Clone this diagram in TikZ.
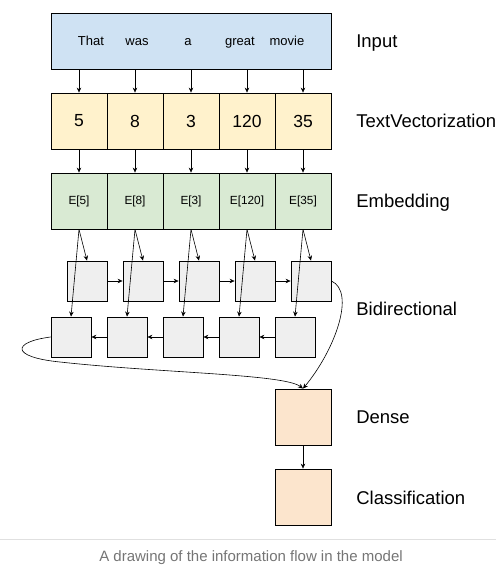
\documentclass[tikz,border=0pt]{standalone}
\usepackage{fontspec}
\setmainfont{Liberation Sans}
\usepackage{xcolor}
\usetikzlibrary{arrows.meta}

\definecolor{inBlue}{HTML}{CFE2F3}
\definecolor{tvYellow}{HTML}{FFF2CC}
\definecolor{emGreen}{HTML}{D9EAD3}
\definecolor{biGray}{HTML}{EFEFEF}
\definecolor{deOrange}{HTML}{FCE5CD}
\definecolor{capGray}{HTML}{757575}

\tikzset{
    cell/.style={draw, line width=0.8pt, minimum width=56pt, minimum height=56pt, inner sep=0pt},
    rnn/.style={draw, line width=0.8pt, fill=biGray, minimum width=40pt, minimum height=40pt, inner sep=0pt},
    layer/.style={anchor=base west, inner sep=0pt, font=\fontsize{18.5}{22}\selectfont}
}

\begin{document}
\begin{tikzpicture}[x=1pt, y=-1pt, >={Stealth[length=5pt,width=4.5pt]}, line width=0.6pt]
    \useasboundingbox (0,0) rectangle (496,585);

    % input sentence
    \node[cell, fill=inBlue, minimum width=280pt] (in) at (191,41) {};
    \begin{scope}[every node/.style={anchor=base, inner sep=0pt, font=\fontsize{13}{15}\selectfont}]
        \node (w1) at (91,46) {That};
        \node (w2) at (137,46) {was};
        \node (w3) at (188,46) {a};
        \node (w4) at (240,46) {great};
        \node (w5) at (287,46) {movie};
    \end{scope}

    % token ids
    \begin{scope}[every node/.style={cell, fill=tvYellow, font=\fontsize{17.5}{20}\selectfont}]
        \node (t1) at (79,121) {5};
        \node (t2) at (135,121) {8};
        \node (t3) at (191,121) {3};
        \node (t4) at (247,121) {120};
        \node (t5) at (303,121) {35};
    \end{scope}

    % embeddings
    \begin{scope}[every node/.style={cell, fill=emGreen, font=\fontsize{11.8}{14}\selectfont}]
        \node (e1) at (79,201) {E[5]};
        \node (e2) at (135,201) {E[8]};
        \node (e3) at (191,201) {E[3]};
        \node (e4) at (247,201) {E[120]};
        \node (e5) at (303,201) {E[35]};
    \end{scope}

    % forward and backward cells
    \node[rnn] (f1) at (87,281) {};
    \node[rnn] (f2) at (143,281) {};
    \node[rnn] (f3) at (199,281) {};
    \node[rnn] (f4) at (255,281) {};
    \node[rnn] (f5) at (311,281) {};
    \node[rnn] (b1) at (71,337) {};
    \node[rnn] (b2) at (127,337) {};
    \node[rnn] (b3) at (183,337) {};
    \node[rnn] (b4) at (239,337) {};
    \node[rnn] (b5) at (295,337) {};

    % dense and classification
    \node[cell, fill=deOrange] (d) at (303,417) {};
    \node[cell, fill=deOrange] (c) at (303,497) {};

    % layer names
    \node[layer] (lIn) at (356,48) {Input};
    \node[layer] (lTv) at (356,127.6) {TextVectorization};
    \node[layer] (lEm) at (356,207.6) {Embedding};
    \node[layer] (lBi) at (356,315.6) {Bidirectional};
    \node[layer] (lDe) at (356,423.6) {Dense};
    \node[layer] (lCl) at (356,504) {Classification};

    \draw [->] (in.south -| t1) -- (t1.north);
    \draw [->] (in.south -| t2) -- (t2.north);
    \draw [->] (in.south -| t3) -- (t3.north);
    \draw [->] (in.south -| t4) -- (t4.north);
    \draw [->] (in.south -| t5) -- (t5.north);

    \draw [->] (t1) -- (e1);
    \draw [->] (t2) -- (e2);
    \draw [->] (t3) -- (e3);
    \draw [->] (t4) -- (e4);
    \draw [->] (t5) -- (e5);

    \draw [->] (e1.south) -- (f1.north);
    \draw [->] (e2.south) -- (f2.north);
    \draw [->] (e3.south) -- (f3.north);
    \draw [->] (e4.south) -- (f4.north);
    \draw [->] (e5.south) -- (f5.north);
    \draw [->] (e1.south) -- (b1.north);
    \draw [->] (e2.south) -- (b2.north);
    \draw [->] (e3.south) -- (b3.north);
    \draw [->] (e4.south) -- (b4.north);
    \draw [->] (e5.south) -- (b5.north);

    \draw [->] (f1) -- (f2);
    \draw [->] (f2) -- (f3);
    \draw [->] (f3) -- (f4);
    \draw [->] (f4) -- (f5);
    \draw [->] (b5) -- (b4);
    \draw [->] (b4) -- (b3);
    \draw [->] (b3) -- (b2);
    \draw [->] (b2) -- (b1);

    \draw [->] (f5.east) .. controls (356,292) and (335,350) .. (d.north);
    \draw [->] (b1.west) .. controls (12,342) and (10,357) .. (60,362) .. controls (160,373) and (285,374) .. (d.north);
    \draw [->] (d) -- (c);

    % caption
    \draw[black!12, line width=0.8pt] (0,539) -- (496,539);
    \node[text=capGray, font=\fontsize{15}{18}\selectfont] (cap) at (251,558) {A drawing of the information flow in the model};
\end{tikzpicture}
\end{document}
